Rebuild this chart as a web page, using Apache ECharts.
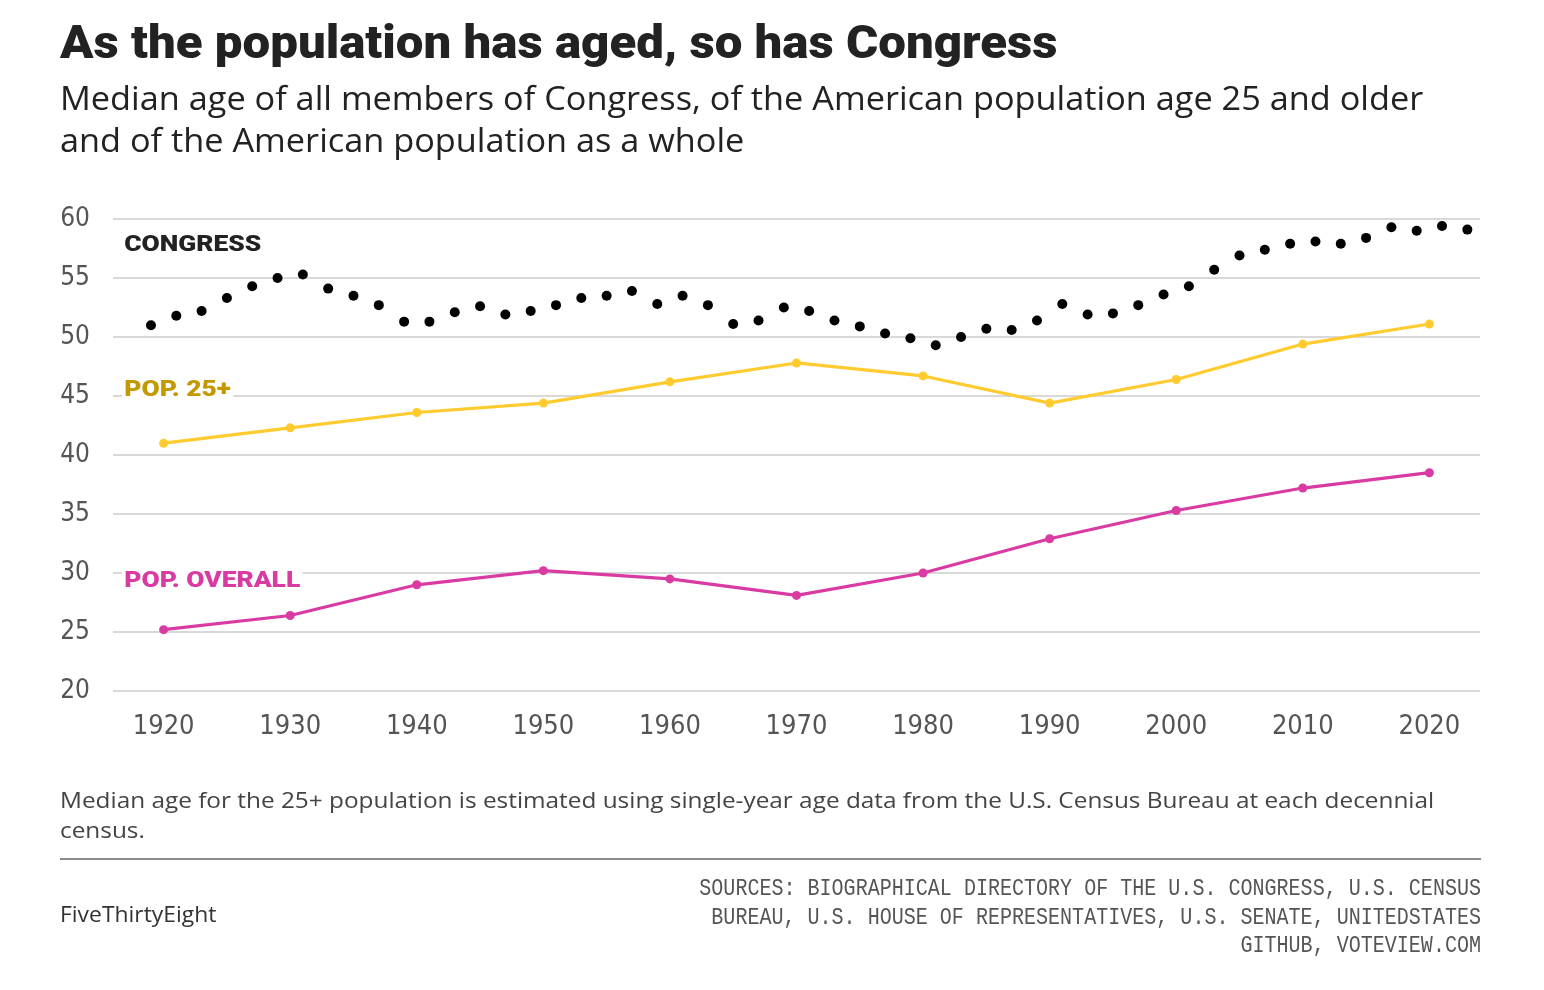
<!DOCTYPE html>
<html>
<head>
<meta charset="utf-8">
<script src="https://cdn.jsdelivr.net/npm/echarts@6/dist/echarts.min.js"></script>
<style>
html,body{margin:0;padding:0;background:#fff;}
#chart{width:1544px;height:990px;}
</style>
</head>
<body>
<div id="chart"></div>
<script>
// ---- Data ----
const congressYears = [1919,1921,1923,1925,1927,1929,1931,1933,1935,1937,1939,1941,1943,1945,1947,1949,1951,1953,1955,1957,1959,1961,1963,1965,1967,1969,1971,1973,1975,1977,1979,1981,1983,1985,1987,1989,1991,1993,1995,1997,1999,2001,2003,2005,2007,2009,2011,2013,2015,2017,2019,2021,2023];
const congressAge = [51.0,51.8,52.2,53.3,54.3,55.0,55.3,54.1,53.5,52.7,51.3,51.3,52.1,52.6,51.9,52.2,52.7,53.3,53.5,53.9,52.8,53.5,52.7,51.1,51.4,52.5,52.2,51.4,50.9,50.3,49.9,49.3,50.0,50.7,50.6,51.4,52.8,51.9,52.0,52.7,53.6,54.3,55.7,56.9,57.4,57.9,58.1,57.9,58.4,59.3,59.0,59.4,59.1];
const censusYears = [1920,1930,1940,1950,1960,1970,1980,1990,2000,2010,2020];
const pop25Age = [41.0,42.3,43.6,44.4,46.2,47.8,46.7,44.4,46.4,49.4,51.1];
const popOverallAge = [25.2,26.4,29.0,30.2,29.5,28.1,30.0,32.9,35.3,37.2,38.5];
const xTickLabels = [1920,1930,1940,1950,1960,1970,1980,1990,2000,2010,2020];
const yTicks = [20,25,30,35,40,45,50,55,60];

const zip = (xs, ys) => xs.map((x, i) => [x, ys[i]]);

const chart = echarts.init(document.getElementById('chart'), null, {renderer: 'canvas'});

const axisFont = '"Liberation Sans Narrow","DejaVu Sans Condensed","Roboto",sans-serif';

const option = {
  backgroundColor: '#ffffff',
  animation: false,
  grid: {left: 113, right: 64, top: 219, bottom: 299, containLabel: false},
  xAxis: {
    type: 'value',
    min: 1916,
    max: 2024,
    axisLine: {show: false},
    axisTick: {show: false},
    splitLine: {show: false},
    axisLabel: {
      customValues: xTickLabels,
      formatter: v => String(v),
      color: '#555',
      fontFamily: axisFont,
      fontSize: 27,
      margin: 22
    }
  },
  yAxis: {
    type: 'value',
    min: yTicks[0],
    max: yTicks[yTicks.length - 1],
    interval: 5,
    axisLine: {show: false},
    axisTick: {show: false},
    splitLine: {lineStyle: {color: '#cccccc', width: 1.5}},
    axisLabel: {
      color: '#555',
      fontFamily: axisFont,
      fontSize: 26,
      margin: 23
    }
  },
  series: [
    {
      name: 'Pop. 25+',
      type: 'line',
      data: zip(censusYears, pop25Age),
      symbol: 'circle',
      symbolSize: 9,
      lineStyle: {color: '#FFCB2E', width: 3.2},
      itemStyle: {color: '#FFCB2E', opacity: 1},
      z: 3
    },
    {
      name: 'Pop. overall',
      type: 'line',
      data: zip(censusYears, popOverallAge),
      symbol: 'circle',
      symbolSize: 9,
      lineStyle: {color: '#D93BA3', width: 3.2},
      itemStyle: {color: '#D93BA3', opacity: 1},
      z: 3
    },
    {
      name: 'Congress',
      type: 'scatter',
      data: zip(congressYears, congressAge),
      symbol: 'circle',
      symbolSize: 10,
      itemStyle: {color: '#000000', opacity: 1},
      z: 4
    }
  ]
};
chart.setOption(option);

// ---- Annotations & text ----
const p = (x, y) => chart.convertToPixel({gridIndex: 0}, [x, y]);
const heavy = '"Roboto","Inter","Lato",sans-serif';
const body = '"Open Sans","Lato",sans-serif';
const mono = '"Liberation Mono","DejaVu Sans Mono",monospace';
const seriesLabel = (text, color, dataPt) => {
  const pt = p(dataPt[0], dataPt[1]);
  return {
    type: 'text', x: pt[0], y: pt[1], scaleX: 1.2,
    style: {
      text: text, fill: color, font: '900 22px ' + heavy,
      textVerticalAlign: 'middle', backgroundColor: '#fff', padding: [0, 2, 0, 2]
    },
    z: 10
  };
};
// y given as top of text box
const txt = (x, y, text, font, fill, sx, align) => ({
  type: 'text', x: x, y: y, scaleX: sx || 1,
  style: {text: text, fill: fill, font: font, textAlign: align || 'left', textVerticalAlign: 'top'}
});

chart.setOption({
  graphic: [
    txt(60, 23, 'As the population has aged, so has Congress', '900 46px ' + heavy, '#222', 1.07),
    txt(60, 84, 'Median age of all members of Congress, of the American population age 25 and older', '400 33px ' + body, '#222', 1.039),
    txt(60, 126, 'and of the American population as a whole', '400 33px ' + body, '#222', 1.039),
    seriesLabel('CONGRESS', '#222222', [1916.7, 57.75]),
    seriesLabel('POP. 25+', '#C29A00', [1916.7, 45.5]),
    seriesLabel('POP. OVERALL', '#D93BA3', [1916.7, 29.3]),
    txt(60, 791, 'Median age for the 25+ population is estimated using single-year age data from the U.S. Census Bureau at each decennial', '400 22px ' + body, '#444', 1.107),
    txt(60, 821, 'census.', '400 22px ' + body, '#444', 1.107),
    {type: 'line', shape: {x1: 60, y1: 859, x2: 1481, y2: 859}, style: {stroke: '#8a8a8a', lineWidth: 2}},
    txt(60, 906, 'FiveThirtyEight', '400 21px ' + body, '#333', 1.09),
    txt(1481, 877, 'SOURCES: BIOGRAPHICAL DIRECTORY OF THE U.S. CONGRESS, U.S. CENSUS', '400 24px ' + mono, '#555', 0.835, 'right'),
    txt(1481, 906, 'BUREAU, U.S. HOUSE OF REPRESENTATIVES, U.S. SENATE, UNITEDSTATES', '400 24px ' + mono, '#555', 0.835, 'right'),
    txt(1481, 934, 'GITHUB, VOTEVIEW.COM', '400 24px ' + mono, '#555', 0.835, 'right')
  ]
});
</script>
</body>
</html>
